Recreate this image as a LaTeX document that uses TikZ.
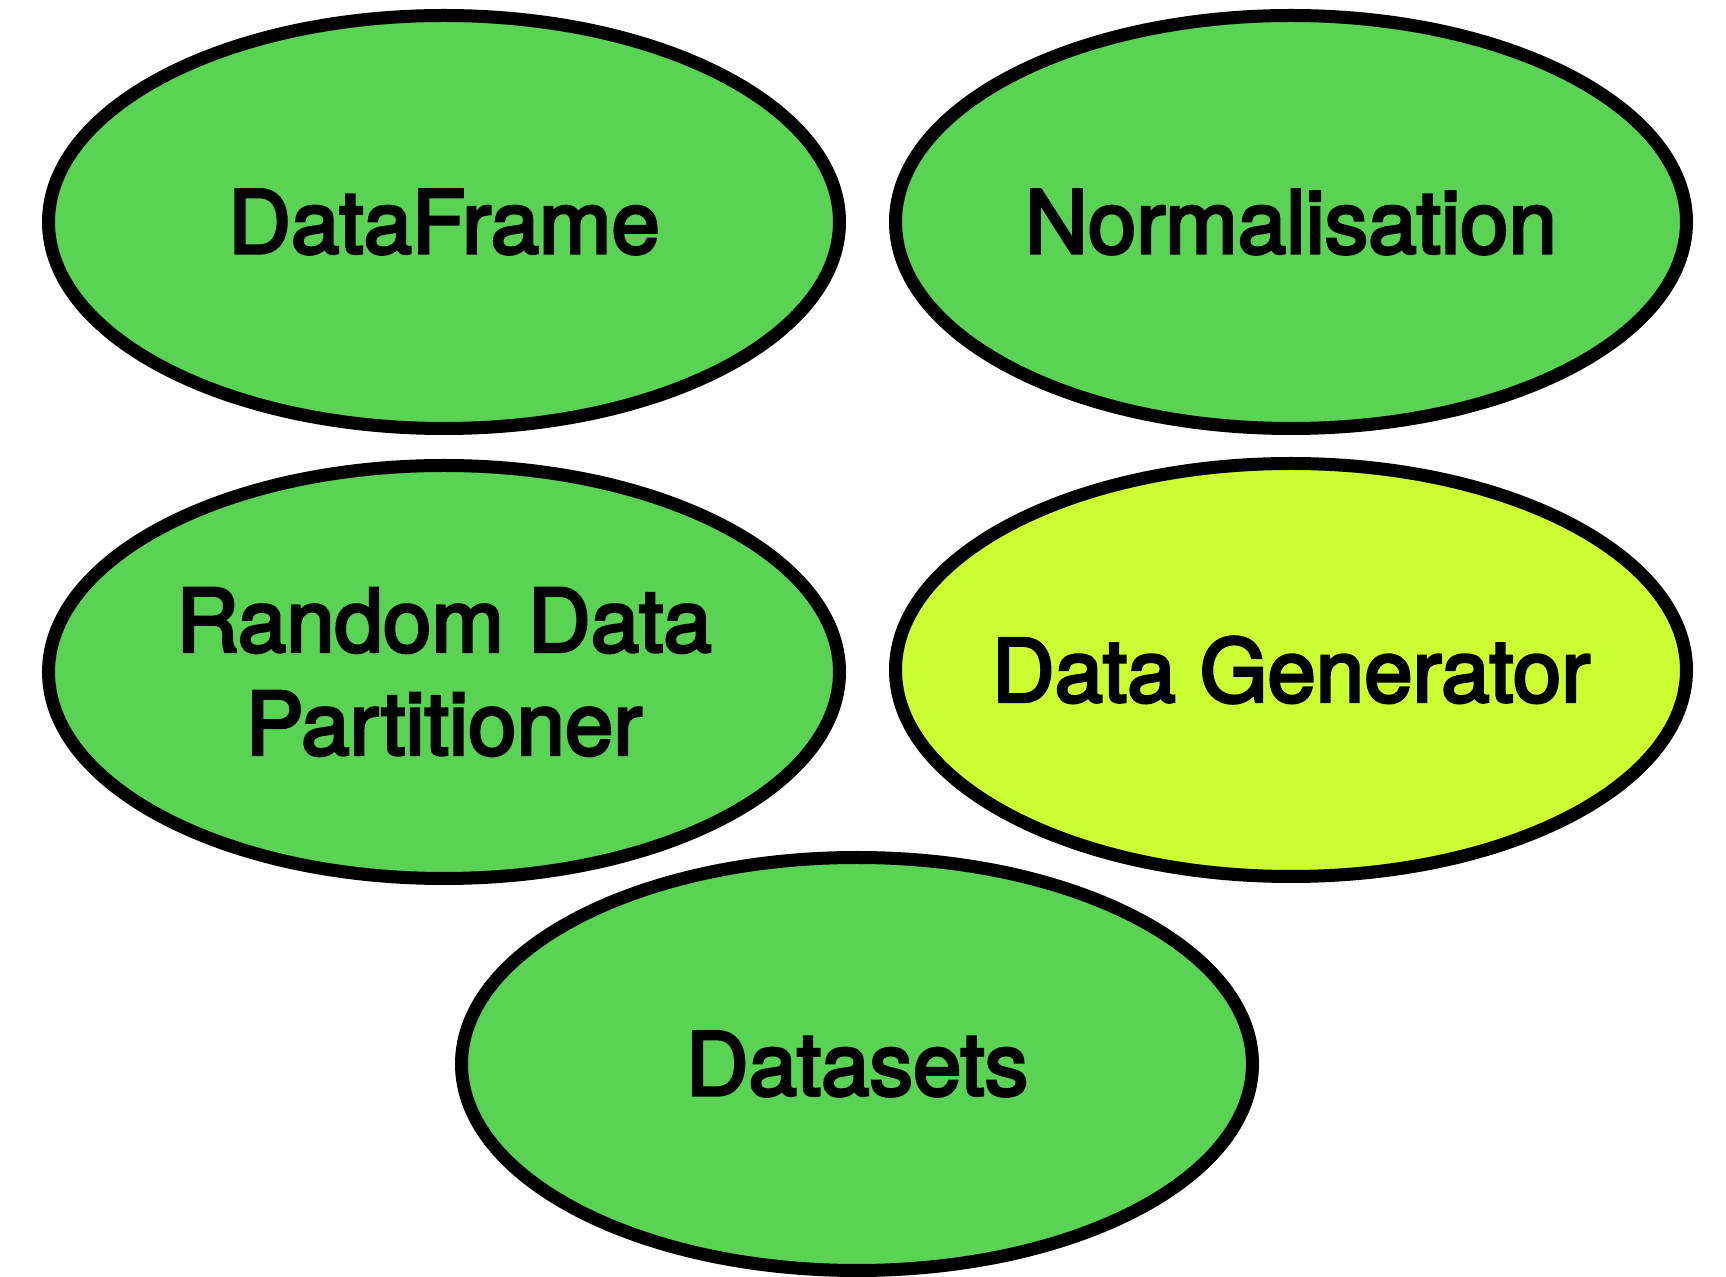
\documentclass[tikz,border=0pt]{standalone}
\usepackage{fontspec}
\newfontfamily\blobfont{TeX Gyre Heros}[RawFeature={embolden=3.5}]
\usetikzlibrary{shapes.geometric}
\definecolor{nodegreen}{RGB}{90,210,84}
\definecolor{nodelime}{RGB}{204,255,51}
\begin{document}
\begin{tikzpicture}[x=0.5pt,y=-0.5pt,
  blob/.style={ellipse, draw=black, line width=6.5pt, fill=nodegreen,
    minimum width=395.5pt, minimum height=206.5pt, inner sep=0pt},
  blobtext/.style={align=center, inner sep=0pt,
    font=\blobfont\fontsize{43.5pt}{51.5pt}\selectfont}]
\useasboundingbox (0,0) rectangle (1726,1277);
\node[blob, label={[blobtext]center:DataFrame}] (df) at (444,222) {};
\node[blob, label={[blobtext]center:Normalisation}] (norm) at (1291,222) {};
\node[blob, label={[blobtext]center:Random Data\\Partitioner}] (rdp) at (444,672) {};
\node[blob, fill=nodelime, label={[blobtext]center:Data Generator}] (dg) at (1291,670) {};
\node[blob, label={[blobtext]center:Datasets}] (ds) at (857,1064) {};
\end{tikzpicture}
\end{document}
